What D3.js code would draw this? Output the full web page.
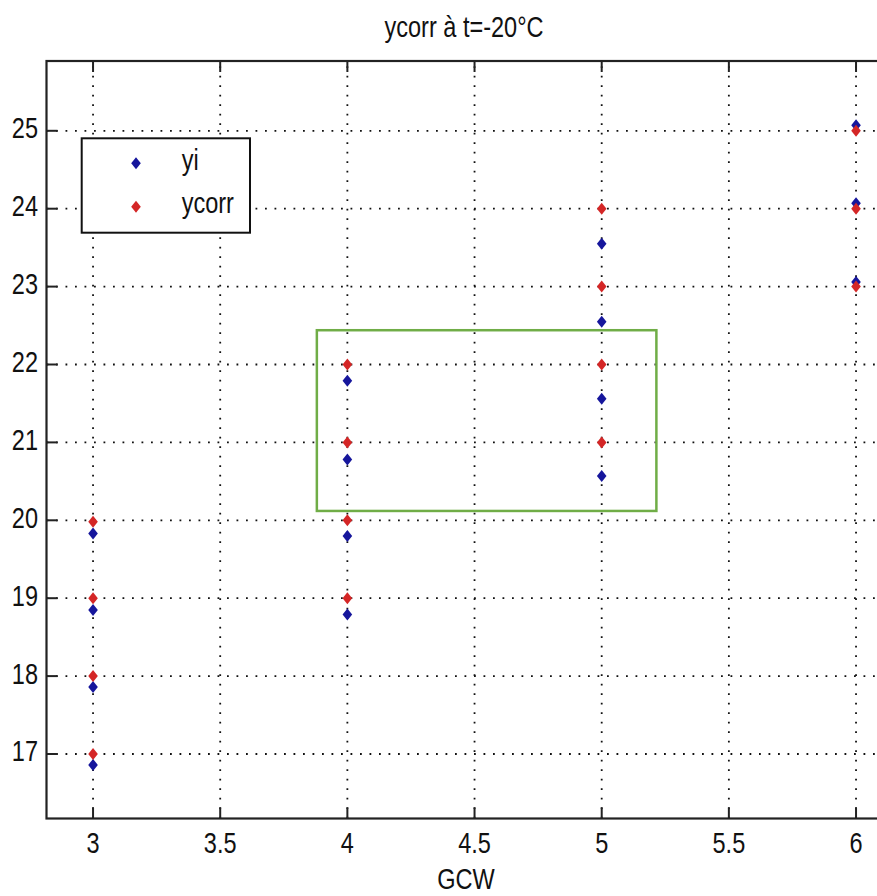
<!DOCTYPE html>
<html>
<head>
<meta charset="utf-8">
<script src="https://cdn.jsdelivr.net/npm/d3@7"></script>
<style>
  html, body { margin: 0; padding: 0; background: #fff; }
  svg { display: block; }
  text { font-family: "Liberation Sans", Arial, sans-serif; fill: #111; }
</style>
</head>
<body>
<svg id="chart" width="877" height="896"></svg>
<script>
// ---- data ----
const gcw = [3, 3, 3, 3, 4, 4, 4, 4, 5, 5, 5, 5, 6, 6, 6];
const yi = [19.83, 18.85, 17.86, 16.86, 21.79, 20.78, 19.80, 18.79, 23.55, 22.55, 21.56, 20.57, 25.07, 24.07, 23.06];
const ycorr = [19.98, 19, 18, 17, 22, 21, 20, 19, 24, 23, 22, 21, 25, 24, 23];
const xTicks = [3, 3.5, 4, 4.5, 5, 5.5, 6];
const xTickLabels = ["3", "3.5", "4", "4.5", "5", "5.5", "6"];
const yTicks = [17, 18, 19, 20, 21, 22, 23, 24, 25];
const yTickLabels = ["17", "18", "19", "20", "21", "22", "23", "24", "25"];
const seriesNames = ["yi", "ycorr"];
const seriesColors = ["#16169c", "#d42626"];
const titleText = "ycorr à t=-20°C";
const xLabel = "GCW";
// highlighted region (data coords): [x0, x1], [y0, y1]
const boxX = [3.88, 5.215];
const boxY = [20.12, 22.44];

// ---- layout ----
const svg = d3.select("#chart");
const L = 46.5, T = 61, B = 818.5;
const x = d3.scaleLinear().domain([2.817, 6.2]).range([L, L + (6.2 - 2.817) * 254.33]);
const y = d3.scaleLinear().domain([16.172, 25.896]).range([B, T]);
const R = x.range()[1];
const FS = 24.5, VS = 1.18;

function addText(g, px, py, str, anchor, size) {
  g.append("g").attr("transform", `translate(${px},${py}) scale(0.96,${VS})`)
    .append("text").attr("text-anchor", anchor || "start")
    .attr("font-size", size || FS).text(str);
}

// grid
const grid = svg.append("g").attr("stroke", "#111").attr("stroke-width", 1.8)
  .attr("stroke-dasharray", "1.8,7.7");
grid.selectAll(".gx").data(xTicks).join("line")
  .attr("x1", d => x(d)).attr("x2", d => x(d)).attr("y1", B).attr("y2", T);
grid.selectAll(".gy").data(yTicks).join("line")
  .attr("y1", d => y(d)).attr("y2", d => y(d)).attr("x1", L).attr("x2", R);

// tick marks (inside, all sides)
const tl = 11;
const ticks = svg.append("g").attr("stroke", "#222").attr("stroke-width", 2);
xTicks.forEach(t => {
  ticks.append("line").attr("x1", x(t)).attr("x2", x(t)).attr("y1", B).attr("y2", B - tl);
  ticks.append("line").attr("x1", x(t)).attr("x2", x(t)).attr("y1", T).attr("y2", T + tl);
});
yTicks.forEach(t => {
  ticks.append("line").attr("x1", L).attr("x2", L + tl).attr("y1", y(t)).attr("y2", y(t));
  ticks.append("line").attr("x1", R).attr("x2", R - tl).attr("y1", y(t)).attr("y2", y(t));
});

// frame
svg.append("rect").attr("x", L).attr("y", T).attr("width", R - L).attr("height", B - T)
  .attr("fill", "none").attr("stroke", "#222").attr("stroke-width", 2.2);

// tick labels
const labels = svg.append("g");
xTicks.forEach((t, i) => addText(labels, x(t), 853, xTickLabels[i], "middle"));
yTicks.forEach((t, i) => addText(labels, 38, y(t) + 7.5, yTickLabels[i], "end"));

// title and axis label
addText(svg, 464, 37, titleText, "middle");
addText(svg, 466, 889, xLabel, "middle");

// markers
const diamond = (cx, cy) => `M${cx},${cy - 6}L${cx + 4.8},${cy}L${cx},${cy + 6}L${cx - 4.8},${cy}Z`;
const series = [yi, ycorr];
series.forEach((vals, si) => {
  svg.append("g").selectAll("path").data(vals).join("path")
    .attr("d", (d, i) => diamond(x(gcw[i]), y(d)))
    .attr("fill", seriesColors[si]);
});

// green highlight rectangle
svg.append("rect")
  .attr("x", x(boxX[0])).attr("y", y(boxY[1]))
  .attr("width", x(boxX[1]) - x(boxX[0])).attr("height", y(boxY[0]) - y(boxY[1]))
  .attr("fill", "none").attr("stroke", "#70ad47").attr("stroke-width", 2.5);

// legend
const lg = svg.append("g");
lg.append("rect").attr("x", 81.7).attr("y", 138.3).attr("width", 168.3).attr("height", 94.4)
  .attr("fill", "#fff").attr("stroke", "#111").attr("stroke-width", 2);
seriesNames.forEach((n, i) => {
  const cy = 163.3 + i * 43.4;
  lg.append("path").attr("d", diamond(136, cy)).attr("fill", seriesColors[i]);
  addText(lg, 181.7, cy + 6.5, n, "start");
});
</script>
</body>
</html>
